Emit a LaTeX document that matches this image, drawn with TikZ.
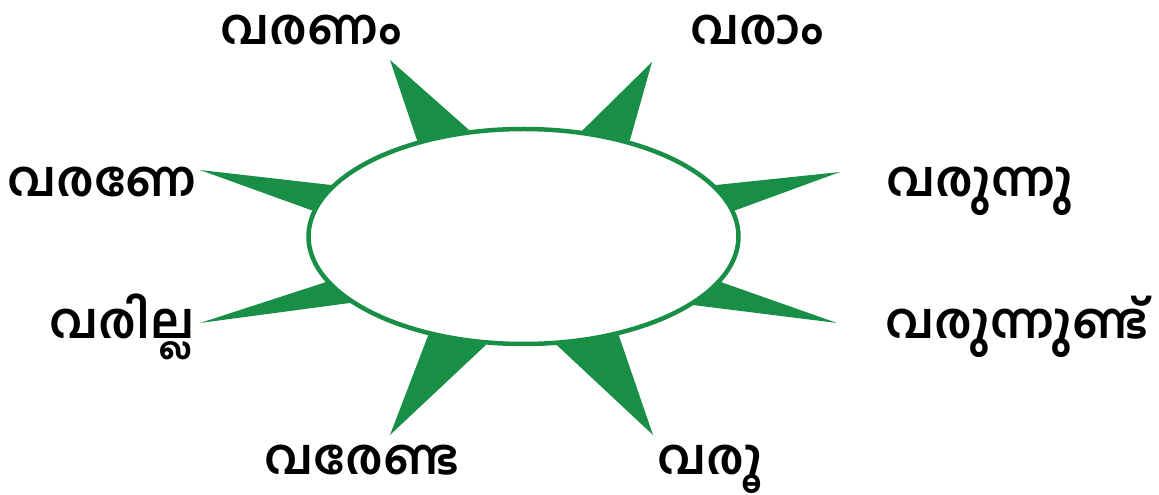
\documentclass[tikz,border=0pt]{standalone}
\usepackage{fontspec}
\usepackage{tikz}
\usetikzlibrary{shapes.geometric,backgrounds}
\newfontfamily\mlfont[Script=Malayalam,BoldFont={Hind Kochi SemiBold}]{Hind Kochi}

\begin{document}
\begin{tikzpicture}[x=1pt,y=1pt,
  ring/.style={ellipse,draw=leafGreen,line width=4.5pt,fill=white,inner sep=0pt,
    minimum width=430pt,minimum height=215pt},
  spike/.style={fill=leafGreen},
  word/.style={anchor=base,inner sep=0pt,outer sep=0pt,
    font=\mlfont\bfseries\fontsize{49}{58}\selectfont}]
\definecolor{leafGreen}{RGB}{24,142,70}
\path[use as bounding box] (0,0) rectangle (1159,495);

\node[ring] (core) at (523.5,258.5) {};

% spikes: two border angles and the tip
\begin{scope}[on background layer]
\foreach \a/\b/\tx/\ty [count=\i] in {138/117/390/435, 61/42/652/433,
    165/173/200/325, 193/201/200/172, 15/7/840/323, -13/-22/837/172,
    -134/-109/390/60, -73/-46/653/60}
  \fill[spike] (core.\a) -- (\tx,\ty) coordinate (tip\i) -- (core.\b) -- cycle;
\end{scope}

\node[word] (wA) at (311,450) {വരണം};
\node[word] (wB) at (757,450) {വരാം};
\node[word] (wC) at (102,298) {വരണേ};
\node[word] (wD) at (122,156) {വരില്ല};
\node[word] (wE) at (980,298) {വരുന്നു};
\node[word] (wF) at (1017,156) {വരുന്നുണ്ട്};
\node[word] (wG) at (362,20) {വരേണ്ട};
\node[word] (wH) at (710,20) {വരൂ};
\end{tikzpicture}
\end{document}
